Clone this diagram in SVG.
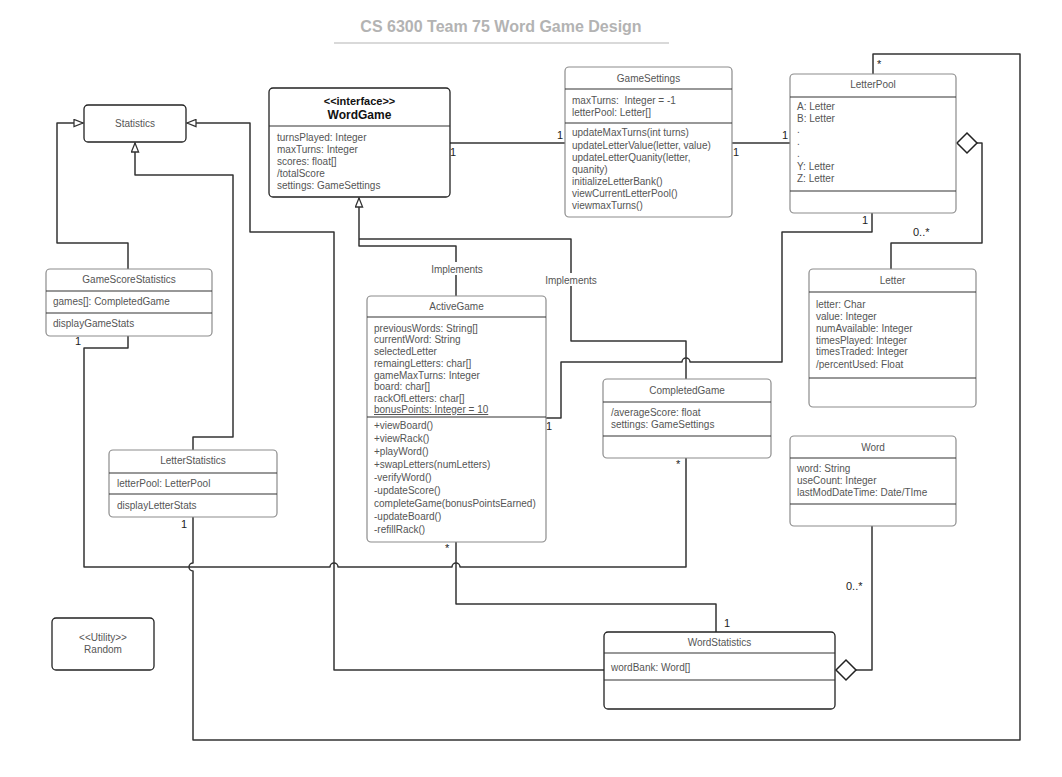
<svg xmlns="http://www.w3.org/2000/svg" width="1062" height="777" viewBox="0 0 1062 777">
<style>
.bg{fill:#fff}
.box{fill:#fff;stroke:#8c8c8c;stroke-width:1.2}
.boxd{fill:#fff;stroke:#222;stroke-width:1.3}
.dv{stroke:#333;stroke-width:1.1}
.t{font-family:"Liberation Sans",Arial,sans-serif;font-size:10px;fill:#555}
.c{text-anchor:middle}
.hb{font-family:"Liberation Sans",Arial,sans-serif;font-weight:bold;fill:#111;text-anchor:middle}
.conn{fill:none;stroke:#333;stroke-width:1.5;stroke-linejoin:round}
.lbl{font-family:"Liberation Sans",Arial,sans-serif;font-size:11px;fill:#222}
.dia{fill:#fff;stroke:#222;stroke-width:1.5}
.impl{font-family:"Liberation Sans",Arial,sans-serif;font-size:10px;fill:#555;text-anchor:middle}
</style>
<defs>
<marker id="tri" viewBox="0 0 12 10" refX="11" refY="5" markerWidth="12" markerHeight="9" markerUnits="userSpaceOnUse" orient="auto">
<path d="M1,1 L11,5 L1,9 z" fill="#fff" stroke="#333" stroke-width="1.4"/>
</marker>
</defs>
<rect class="bg" x="0" y="0" width="1062" height="777"/>

<g id="title">
<text x="501" y="32" style="font-family:'Liberation Sans',Arial,sans-serif;font-size:16px;font-weight:bold;fill:#b3b3b3" text-anchor="middle">CS 6300 Team 75 Word Game Design</text>
<line x1="334" y1="43" x2="669" y2="43" stroke="#b3b3b3" stroke-width="1.2"/>
</g>

<g id="connectors">
<path class="conn" d="M450,143 L565,143"/>
<path class="conn" d="M732,143 L790,143"/>
<path class="conn" d="M128,269 L128,243 L57,243 L57,123 L83,123" marker-end="url(#tri)"/>
<path class="conn" d="M604,670 L334,670 L334,232 L250,232 L250,123 L187,123" marker-end="url(#tri)"/>
<path class="conn" d="M193,450 L193,437 L233,437 L233,175 L135,175 L135,143" marker-end="url(#tri)"/>
<path class="conn" d="M456,296 L456,246 L359,246 L359,198" marker-end="url(#tri)"/>
<path class="conn" d="M686,379 L686,341 L571,341 L571,239 L359,239"/>
<path class="conn" d="M128,336 L128,348 L84,348 L84,567 L330,567 A4,4 0 0 1 338,567 L452,567 A4,4 0 0 1 460,567 L686,567 L686,458"/>
<path class="conn" d="M193,517 L193,563 A4,4 0 0 0 193,571 L193,740 L1020,740 L1020,54 L873,54 L873,74"/>
<path class="conn" d="M872,213 L872,232 L782,232 L782,362 L690,362 A4,4 0 0 0 682,362 L561,362 L561,418 L546,418"/>
<path class="conn" d="M977,143 L982,143 L982,243 L891,243 L891,269"/>
<polygon class="dia" points="957,143 967,133 977,143 967,153"/>
<path class="conn" d="M456,542 L456,604 L716,604 L716,632"/>
<path class="conn" d="M856,670 L872,670 L872,526"/>
<polygon class="dia" points="836,670 846,660 856,670 846,680"/>
<rect x="430" y="262" width="54" height="13" fill="#fff"/>
<text class="impl" x="457" y="272.5">Implements</text>
<rect x="544" y="273" width="54" height="13" fill="#fff"/>
<text class="impl" x="571" y="283.5">Implements</text>
<text class="lbl" x="450" y="156">1</text>
<text class="lbl" x="557" y="139">1</text>
<text class="lbl" x="733" y="156">1</text>
<text class="lbl" x="782" y="139">1</text>
<text class="lbl" x="877" y="68">*</text>
<text class="lbl" x="862" y="224">1</text>
<text class="lbl" x="913" y="236">0..*</text>
<text class="lbl" x="546" y="430">1</text>
<text class="lbl" x="676" y="468">*</text>
<text class="lbl" x="445" y="552">*</text>
<text class="lbl" x="724" y="627">1</text>
<text class="lbl" x="846" y="590">0..*</text>
<text class="lbl" x="75" y="345">1</text>
<text class="lbl" x="181" y="528">1</text>
</g>

<g id="WordGame">
<rect class="boxd" x="269" y="88" width="181" height="109" rx="4"/>
<line class="dv" x1="269" y1="126" x2="450" y2="126"/>
<text class="hb" x="359.5" y="104.5" font-size="11">&lt;&lt;interface&gt;&gt;</text>
<text class="hb" x="359.5" y="119" font-size="12">WordGame</text>
<text class="t" x="277" y="141">turnsPlayed: Integer</text>
<text class="t" x="277" y="153">maxTurns: Integer</text>
<text class="t" x="277" y="165">scores: float[]</text>
<text class="t" x="277" y="177">/totalScore</text>
<text class="t" x="277" y="189">settings: GameSettings</text>
</g>

<g id="GameSettings">
<rect class="box" x="565" y="67" width="167" height="150" rx="4"/>
<line class="dv" x1="565" y1="89" x2="732" y2="89"/>
<line class="dv" x1="565" y1="123" x2="732" y2="123"/>
<text class="t c" x="648.5" y="81.5">GameSettings</text>
<text class="t" x="572" y="104" style="white-space:pre">maxTurns:  Integer = -1</text>
<text class="t" x="572" y="116">letterPool: Letter[]</text>
<text class="t" x="572" y="136">updateMaxTurns(int turns)</text>
<text class="t" x="572" y="148.5">updateLetterValue(letter, value)</text>
<text class="t" x="572" y="161">updateLetterQuanity(letter,</text>
<text class="t" x="572" y="173">quanity)</text>
<text class="t" x="572" y="185">initializeLetterBank()</text>
<text class="t" x="572" y="197">viewCurrentLetterPool()</text>
<text class="t" x="572" y="209">viewmaxTurns()</text>
</g>

<g id="LetterPool">
<rect class="box" x="790" y="74" width="166" height="139" rx="4"/>
<line class="dv" x1="790" y1="97" x2="956" y2="97"/>
<line class="dv" x1="790" y1="191" x2="956" y2="191"/>
<text class="t c" x="873" y="87.5">LetterPool</text>
<text class="t" x="797" y="109.5">A: Letter</text>
<text class="t" x="797" y="121.5">B: Letter</text>
<text class="t" x="797" y="133">.</text>
<text class="t" x="797" y="145">.</text>
<text class="t" x="797" y="157">.</text>
<text class="t" x="797" y="169.5">Y: Letter</text>
<text class="t" x="797" y="181.5">Z: Letter</text>
</g>

<g id="Statistics">
<rect class="boxd" x="84" y="105" width="102" height="37" rx="4"/>
<text class="t c" x="135" y="126.5">Statistics</text>
</g>

<g id="GameScoreStatistics">
<rect class="box" x="46" y="269" width="166" height="67" rx="4"/>
<line class="dv" x1="46" y1="291" x2="212" y2="291"/>
<line class="dv" x1="46" y1="313" x2="212" y2="313"/>
<text class="t c" x="129" y="282.5">GameScoreStatistics</text>
<text class="t" x="53" y="304.5">games[]: CompletedGame</text>
<text class="t" x="53" y="326.5">displayGameStats</text>
</g>

<g id="ActiveGame">
<rect class="box" x="367" y="296" width="179" height="246" rx="4"/>
<line class="dv" x1="367" y1="317" x2="546" y2="317"/>
<line class="dv" x1="367" y1="417" x2="546" y2="417"/>
<text class="t c" x="456.5" y="309.5">ActiveGame</text>
<text class="t" x="374" y="331.5">previousWords: String[]</text>
<text class="t" x="374" y="343">currentWord: String</text>
<text class="t" x="374" y="355">selectedLetter</text>
<text class="t" x="374" y="366.5">remaingLetters: char[]</text>
<text class="t" x="374" y="378.5">gameMaxTurns: Integer</text>
<text class="t" x="374" y="390">board: char[]</text>
<text class="t" x="374" y="401.5">rackOfLetters: char[]</text>
<text class="t" x="374" y="413" text-decoration="underline">bonusPoints: Integer = 10</text>
<text class="t" x="374" y="428.5">+viewBoard()</text>
<text class="t" x="374" y="441.5">+viewRack()</text>
<text class="t" x="374" y="454.5">+playWord()</text>
<text class="t" x="374" y="467.5">+swapLetters(numLetters)</text>
<text class="t" x="374" y="480.5">-verifyWord()</text>
<text class="t" x="374" y="493.5">-updateScore()</text>
<text class="t" x="374" y="506.5">completeGame(bonusPointsEarned)</text>
<text class="t" x="374" y="519.5">-updateBoard()</text>
<text class="t" x="374" y="532.5">-refillRack()</text>
</g>

<g id="CompletedGame">
<rect class="box" x="603" y="379" width="168" height="79" rx="4"/>
<line class="dv" x1="603" y1="402" x2="771" y2="402"/>
<line class="dv" x1="603" y1="436" x2="771" y2="436"/>
<text class="t c" x="687" y="393.5">CompletedGame</text>
<text class="t" x="611" y="415.5">/averageScore: float</text>
<text class="t" x="611" y="427.5">settings: GameSettings</text>
</g>

<g id="Letter">
<rect class="box" x="809" y="269" width="167" height="138" rx="4"/>
<line class="dv" x1="809" y1="292" x2="976" y2="292"/>
<line class="dv" x1="809" y1="378" x2="976" y2="378"/>
<text class="t c" x="892.5" y="283.5">Letter</text>
<text class="t" x="816" y="307.5">letter: Char</text>
<text class="t" x="816" y="319.5">value: Integer</text>
<text class="t" x="816" y="331.5">numAvailable: Integer</text>
<text class="t" x="816" y="343.5">timesPlayed: Integer</text>
<text class="t" x="816" y="355">timesTraded: Integer</text>
<text class="t" x="816" y="367.5">/percentUsed: Float</text>
</g>

<g id="Word">
<rect class="box" x="790" y="436" width="166" height="90" rx="4"/>
<line class="dv" x1="790" y1="458" x2="956" y2="458"/>
<line class="dv" x1="790" y1="504" x2="956" y2="504"/>
<text class="t c" x="873" y="450.5">Word</text>
<text class="t" x="797" y="471.5">word: String</text>
<text class="t" x="797" y="483.5">useCount: Integer</text>
<text class="t" x="797" y="495.5">lastModDateTime: Date/TIme</text>
</g>

<g id="LetterStatistics">
<rect class="box" x="109" y="450" width="168" height="67" rx="4"/>
<line class="dv" x1="109" y1="473" x2="277" y2="473"/>
<line class="dv" x1="109" y1="494" x2="277" y2="494"/>
<text class="t c" x="193" y="463.5">LetterStatistics</text>
<text class="t" x="117" y="486.5">letterPool: LetterPool</text>
<text class="t" x="117" y="508.5">displayLetterStats</text>
</g>

<g id="WordStatistics">
<rect class="boxd" x="604" y="632" width="231" height="77" rx="4"/>
<line class="dv" x1="604" y1="653" x2="835" y2="653"/>
<line class="dv" x1="604" y1="680" x2="835" y2="680"/>
<text class="t c" x="719.5" y="645.5">WordStatistics</text>
<text class="t" x="611" y="670.5">wordBank: Word[]</text>
</g>

<g id="Random">
<rect class="boxd" x="52" y="618" width="102" height="52" rx="4"/>
<text class="t c" x="103" y="640.5">&lt;&lt;Utility&gt;&gt;</text>
<text class="t c" x="103" y="652.5">Random</text>
</g>
</svg>
